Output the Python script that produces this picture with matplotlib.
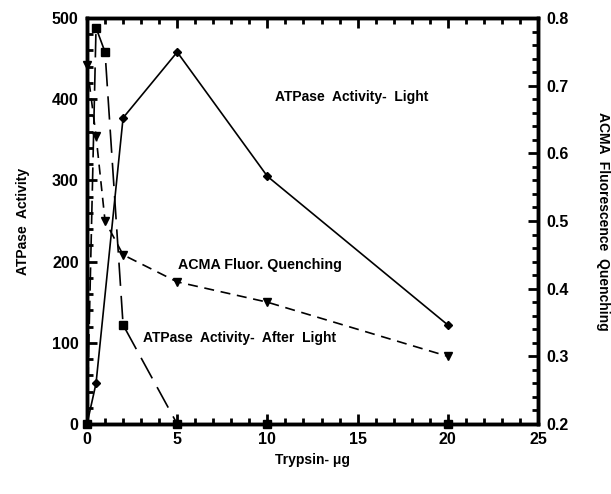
import numpy as np
import matplotlib
matplotlib.use("Agg")
import matplotlib.pyplot as plt
from matplotlib.ticker import MultipleLocator

plt.rcParams['font.family'] = ['Liberation Sans', 'DejaVu Sans']
plt.rcParams['font.weight'] = 'bold'

# data
trypsin_light = [0, 0.5, 2, 5, 10, 20]
atpase_light = [0, 50, 377, 458, 305, 122]

trypsin_after = [0, 0.5, 1, 2, 5, 10, 20]
atpase_after = [0, 488, 458, 122, 0, 0, 0]

trypsin_acma = [0, 0.5, 1, 2, 5, 10, 20]
acma_quench = [0.73, 0.626, 0.50, 0.45, 0.41, 0.38, 0.30]

fig = plt.figure(figsize=(6.11, 4.94), dpi=100)
ax = fig.add_axes([0.1424, 0.1417, 0.7381, 0.8219])
ax2 = ax.twinx()

ax.plot(trypsin_light, atpase_light, color='k', lw=1.2, marker='D', ms=4.5,
        clip_on=False, zorder=3)
ax.plot(trypsin_after, atpase_after, color='k', lw=1.2, marker='s', ms=6,
        dashes=(14, 6), clip_on=False, zorder=3)
ax2.plot(trypsin_acma, acma_quench, color='k', lw=1.2, marker='v', ms=5.5,
         dashes=(6, 4), clip_on=False, zorder=3)

ax.set_xlim(0, 25)
ax.set_ylim(0, 500)
ax2.set_ylim(0.2, 0.8)

ax.xaxis.set_major_locator(MultipleLocator(5))
ax.xaxis.set_minor_locator(MultipleLocator(1))
ax.yaxis.set_major_locator(MultipleLocator(100))
ax.yaxis.set_minor_locator(MultipleLocator(20))
ax2.yaxis.set_major_locator(MultipleLocator(0.1))
ax2.yaxis.set_minor_locator(MultipleLocator(0.02))
ax2.yaxis.set_major_formatter(plt.FuncFormatter(lambda v, p: f"{v:.1f}"))

ax.tick_params(axis='x', which='both', direction='in', top=True, width=2)
ax.tick_params(axis='y', which='both', direction='in', left=True, right=False, width=2)
ax2.tick_params(axis='y', which='both', direction='in', width=2)
for a in (ax, ax2):
    a.tick_params(which='major', length=7, labelsize=11.5, pad=6)
    a.tick_params(which='minor', length=4)
    for s in a.spines.values():
        s.set_linewidth(2.5)
for lab in ax.get_xticklabels() + ax.get_yticklabels() + ax2.get_yticklabels():
    lab.set_fontweight('bold')

ax.set_xlabel('Trypsin- \u03bcg', fontsize=10, fontweight='bold', labelpad=4)
ax.set_ylabel('ATPase  Activity', fontsize=10, fontweight='bold', labelpad=16)
ax2.set_ylabel('ACMA  Fluorescence  Quenching', fontsize=10, fontweight='bold',
               rotation=270, labelpad=30)

ax.text(10.42, 403, 'ATPase  Activity-  Light', fontsize=10, fontweight='bold',
        va='center')
ax.text(5.05, 196, 'ACMA Fluor. Quenching', fontsize=10.3, fontweight='bold',
        va='center')
ax.text(3.1, 106, 'ATPase  Activity-  After  Light', fontsize=10,
        fontweight='bold', va='center')

fig.savefig('out.png', dpi=100)
